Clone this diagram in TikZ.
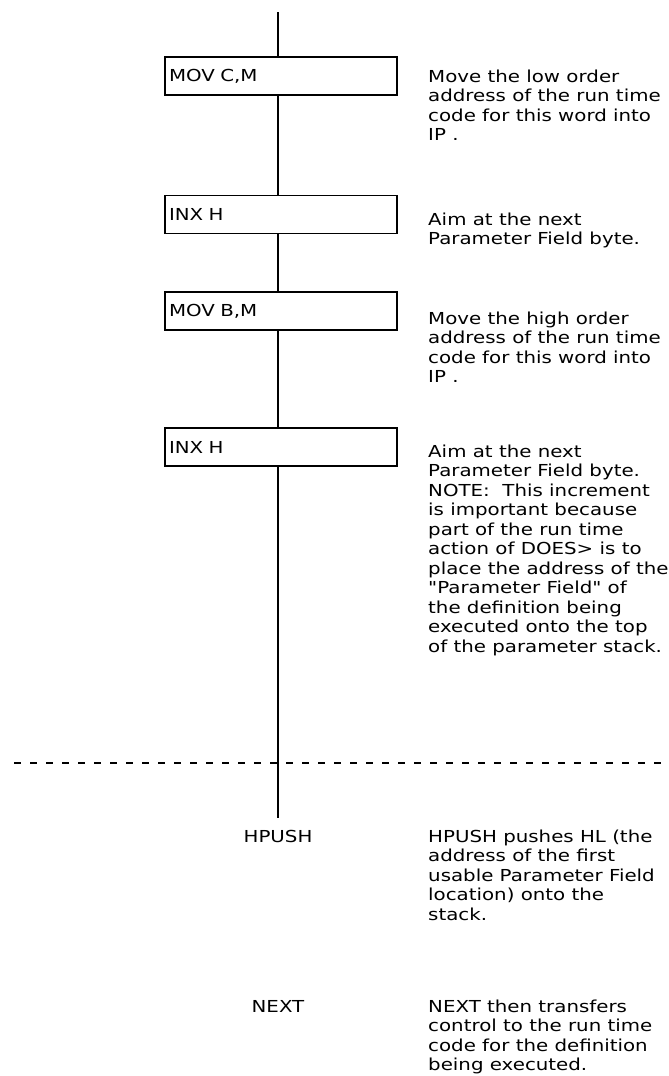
\documentclass[tikz,border=0pt]{standalone}
\usepackage{fontspec}
\setmainfont[FakeStretch=1.2,Ligatures=TeXOff]{DejaVu Sans}
\usepackage{tikz}
\usetikzlibrary{arrows,shapes}

\begin{document}
\begin{tikzpicture}[x=1pt,y=-1pt,font=\fontsize{16.5}{19.5}\selectfont]
  \tikzstyle{instr}=[rectangle,
                                    line width=1.2pt,
                                    minimum width=232pt,
                                    minimum height=38pt,
                                    text width=224pt,
                                    inner sep=4pt,
                                    align=left,
                                    draw=black]
  \tikzstyle{comment}=[anchor=base west,align=left,inner sep=0pt]
  \tikzstyle{routine}=[anchor=base,inner sep=0pt]
  \tikzstyle{flow}=[line width=1.6pt]
  \useasboundingbox (0,0) rectangle (669,1076);
  %Instrucciones
  \node[instr] (MOVC) at (281,76) {MOV C,M};
  \node[instr] (INX1) at (281,214.5) {INX H};
  \node[instr] (MOVB) at (281,311) {MOV B,M};
  \node[instr] (INX2) at (281,447) {INX H};
  %Extremos de la linea
  \coordinate (top) at (278,12);
  \coordinate (bot) at (278,818);
  %Rutinas
  \node[routine] (HPUSH) at (278,842) {HPUSH};
  \node[routine] (NEXT) at (278,1012) {NEXT};
  %Comentarios (base = ultima linea)
  \node[comment] (cMOVC) at (428,140.5) {Move the low order\\address of the run time\\code for this word into\\IP .};
  \node[comment] (cINX1) at (428,244.5) {Aim at the next\\Parameter Field byte.};
  \node[comment] (cMOVB) at (428,382.5) {Move the high order\\address of the run time\\code for this word into\\IP .};
  \node[comment] (cINX2) at (428,652) {Aim at the next\\Parameter Field byte.\\NOTE:\ \ This increment\\is important because\\part of the run time\\action of DOES> is to\\place the address of the\\"Parameter Field" of\\the definition being\\executed onto the top\\of the parameter stack.};
  \node[comment] (cHPUSH) at (428,920) {HPUSH pushes HL (the\\address of the first\\usable Parameter Field\\location) onto the\\stack.};
  \node[comment] (cNEXT) at (428,1070.5) {NEXT then transfers\\control to the run time\\code for the definition\\being executed.};
  %Separacion
  \coordinate (sepl) at (14,763);
  \coordinate (sepr) at (669,763);
  \draw[line width=1.4pt,dash pattern=on 7pt off 9pt] (sepl) -- (sepr);
  %Flujo
  \draw[flow] (top) -- (top |- MOVC.north);
  \draw[flow] (MOVC.south -| top) -- (INX1.north -| top);
  \draw[flow] (INX1.south -| top) -- (MOVB.north -| top);
  \draw[flow] (MOVB.south -| top) -- (INX2.north -| top);
  \draw[flow] (INX2.south -| top) -- (bot);
\end{tikzpicture}
\end{document}
